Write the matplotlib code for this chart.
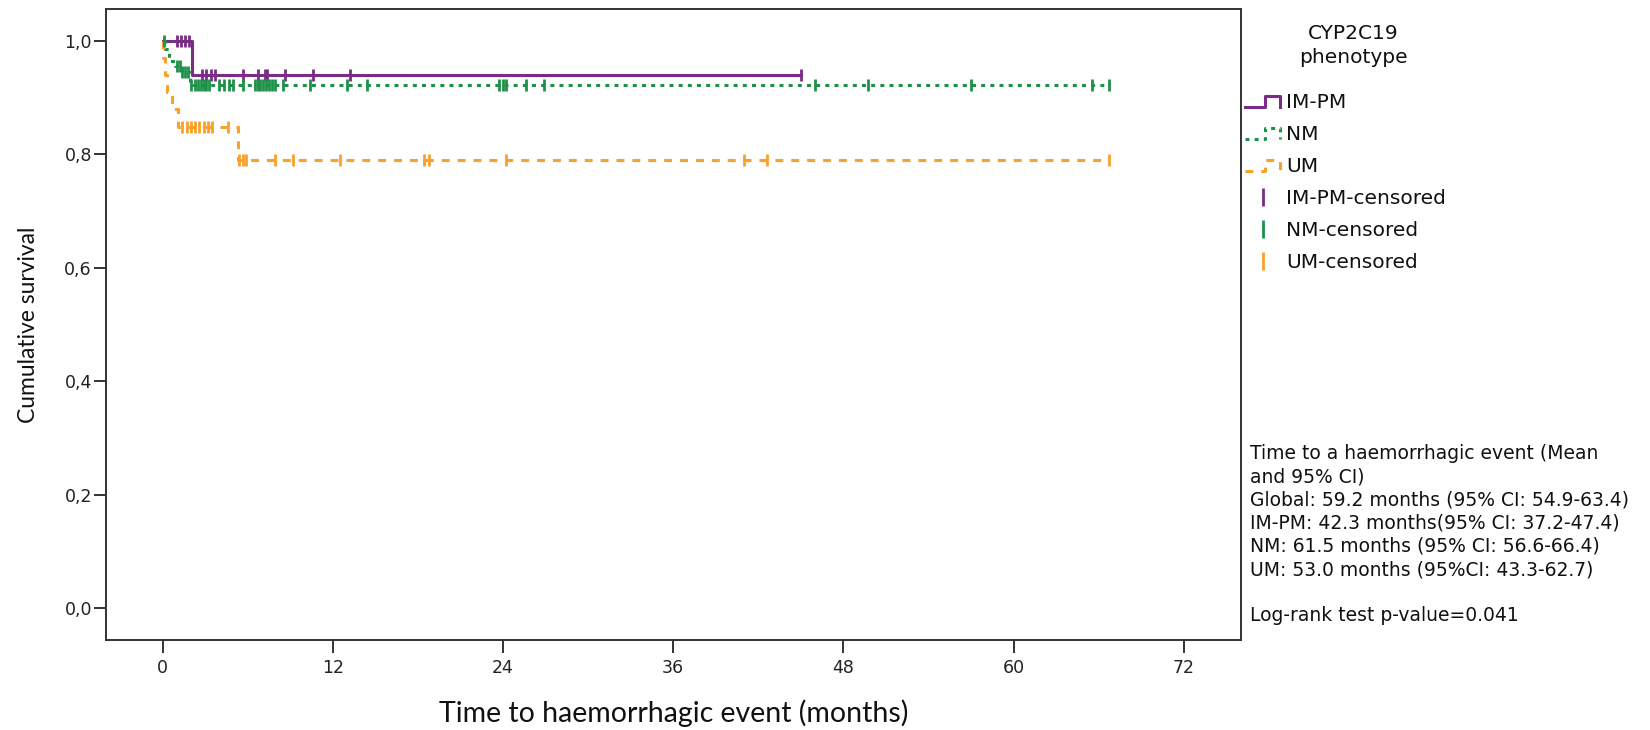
import numpy as np
import matplotlib.pyplot as plt
from matplotlib.lines import Line2D
from matplotlib.legend_handler import HandlerBase

plt.rcParams['font.family'] = ['Lato', 'DejaVu Sans']

# Kaplan-Meier steps (months, cumulative survival)
im_pm_times = [0.0, 2.1, 45.0]
im_pm_surv = [1.0, 0.94, 0.94]
im_pm_cens = [1.0, 1.3, 1.6, 1.9, 2.8, 3.1, 3.4, 3.7, 5.7, 6.7, 7.2, 7.4,
              8.6, 10.6, 13.2, 45.0]

nm_times = [0.0, 0.15, 0.45, 0.9, 1.35, 1.95, 66.7]
nm_surv = [1.0, 0.985, 0.965, 0.955, 0.945, 0.922, 0.922]
nm_cens = [0.1, 1.0, 1.2, 1.4, 1.6, 1.8, 2.0, 2.3, 2.5, 2.7, 2.9, 3.1, 3.3,
           4.0, 4.3, 4.7, 5.0, 5.7, 6.5, 6.7, 6.9, 7.1, 7.3, 7.5, 7.7, 7.9,
           8.5, 10.4, 13.0, 14.4, 23.7, 24.0, 24.2, 25.6, 26.9, 46.0, 49.7,
           57.0, 65.5, 66.7]

um_times = [0.0, 0.05, 0.15, 0.3, 0.7, 1.1, 5.3, 66.7]
um_surv = [1.0, 0.97, 0.94, 0.91, 0.88, 0.848, 0.79, 0.79]
um_cens = [1.4, 1.7, 2.0, 2.3, 2.6, 2.9, 3.2, 3.5, 4.6, 5.4, 5.7, 5.9, 7.9,
           9.2, 12.5, 18.4, 18.8, 24.2, 41.0, 42.6, 66.7]

x_ticks = [0, 12, 24, 36, 48, 60, 72]
y_ticks = [0.0, 0.2, 0.4, 0.6, 0.8, 1.0]
y_ticklabels = ['0,0', '0,2', '0,4', '0,6', '0,8', '1,0']

groups = [
    ('IM-PM', im_pm_times, im_pm_surv, im_pm_cens, '#7B2C86', '-'),
    ('NM', nm_times, nm_surv, nm_cens, '#1E9149', (0, (1.3, 1.7))),
    ('UM', um_times, um_surv, um_cens, '#F9A12B', (0, (2.6, 2.6))),
]

stats_text = ("Time to a haemorrhagic event (Mean\n"
              "and 95% CI)\n"
              "Global: 59.2 months (95% CI: 54.9-63.4)\n"
              "IM-PM: 42.3 months(95% CI: 37.2-47.4)\n"
              "NM: 61.5 months (95% CI: 56.6-66.4)\n"
              "UM: 53.0 months (95%CI: 43.3-62.7)\n"
              "\n"
              "Log-rank test p-value=0.041")


class StepHandler(HandlerBase):
    def create_artists(self, legend, orig_handle, xdescent, ydescent,
                       width, height, fontsize, trans):
        xs = np.array([0.0, 0.55, 0.55, 0.97, 0.97]) * width - xdescent
        ys = np.array([0.1, 0.1, 0.85, 0.85, 0.1]) * height - ydescent
        line = Line2D(xs, ys)
        self.update_prop(line, orig_handle, legend)
        line.set_transform(trans)
        return [line]


fig = plt.figure(figsize=(16.5, 7.3), dpi=100)
ax = fig.add_axes([0.0641, 0.1233, 0.6878, 0.8644])

step_handles = []
cens_handles = []
for name, times, surv, cens, color, ls in groups:
    times = np.array(times)
    surv = np.array(surv)
    line, = ax.step(times, surv, where='post', color=color, lw=2.2,
                    linestyle=ls, zorder=3)
    idx = np.searchsorted(times, cens, side='right') - 1
    ax.plot(cens, surv[idx], linestyle='none', marker='|', ms=9, mew=2,
            color=color, zorder=4)
    step_handles.append(line)
    cens_handles.append(Line2D([], [], linestyle='none', marker='|', ms=13,
                               mew=2, color=color))

ax.set_xlim(-4, 76)
ax.set_ylim(-0.056, 1.056)
ax.set_xticks(x_ticks)
ax.set_yticks(y_ticks)
ax.set_yticklabels(y_ticklabels)
for lab in ax.get_xticklabels() + ax.get_yticklabels():
    lab.set_family('DejaVu Sans')
    lab.set_fontsize(12.5)
    lab.set_color('#222222')
ax.tick_params(axis='both', direction='out', length=9, width=1.4,
               color='#333333')
ax.tick_params(axis='y', pad=1)
ax.tick_params(axis='x', pad=5)
for sp in ax.spines.values():
    sp.set_color('#333333')
    sp.set_linewidth(1.4)

ax.set_ylabel('Cumulative survival', fontsize=16.5, va='center', color='#111111')
ax.yaxis.set_label_coords(-0.068, 0.5)
ax.set_xlabel('Time to haemorrhagic event (months)', fontsize=20.5,
              va='center', color='#111111')
ax.xaxis.set_label_coords(0.5, -0.1157)

# legend title drawn separately so the gap below it can match
fig.text(1353 / 1650, 1 - 24 / 730, 'CYP2C19\nphenotype', family='DejaVu Sans',
         fontsize=14.5, ha='center', va='top', linespacing=1.35,
         color='#111111')

labels = ['IM-PM', 'NM', 'UM', 'IM-PM-censored', 'NM-censored', 'UM-censored']
handler_map = {h: StepHandler() for h in step_handles}
leg = fig.legend(step_handles + cens_handles, labels,
                 loc='upper left', bbox_to_anchor=(1245 / 1650, 1 - 93 / 730),
                 frameon=False, prop={'family': 'DejaVu Sans', 'size': 14.5},
                 handlelength=1.8, handletextpad=0.25, borderaxespad=0,
                 labelspacing=0.65, borderpad=0, handler_map=handler_map)
for t in leg.get_texts():
    t.set_color('#111111')

fig.text(1250 / 1650, 1 - 444 / 730, stats_text, fontsize=13.5,
         family='DejaVu Sans', va='top', ha='left', linespacing=1.28,
         color='#111111')

fig.savefig('out.png', dpi=100)
